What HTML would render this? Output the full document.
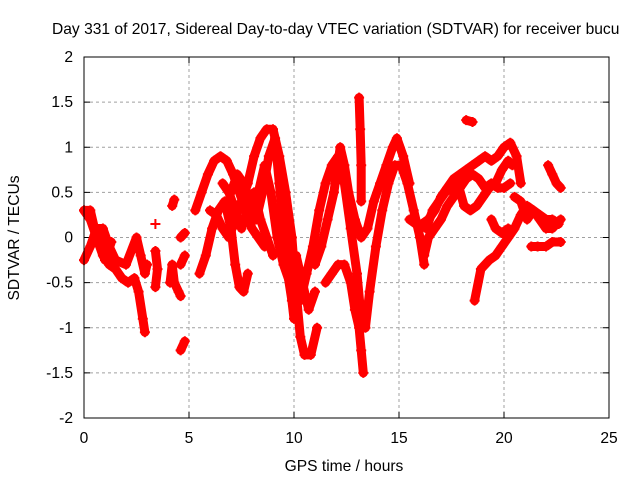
<!DOCTYPE html>
<html><head><meta charset="utf-8"><style>
body{margin:0;background:#fff}
svg text{font-family:"Liberation Sans",sans-serif;font-size:15.6px;fill:#000}
</style></head><body>
<svg width="640" height="480" viewBox="0 0 640 480">
<g id="grid"></g>
<g id="axes"></g>
<g id="series"></g>
<rect x="84" y="57" width="525" height="361" fill="none" stroke="#000" stroke-width="1"/>
<text x="52" y="34">Day 331 of 2017, Sidereal Day-to-day VTEC variation (SDTVAR) for receiver bucu</text>
<text x="344" y="471" text-anchor="middle">GPS time / hours</text>
<text transform="translate(19,238) rotate(-90)" text-anchor="middle">SDTVAR / TECUs</text>
</svg>
<script>
const xTicks=[0,5,10,15,20,25];
const yTicks=[2,1.5,1,0.5,0,-0.5,-1,-1.5,-2];
const traces=[
[[0,0.3],[0.3,0.2],[0.6,0],[0.9,-0.2],[1.2,-0.3],[1.5,-0.35],[1.8,-0.45],[2.1,-0.5],[2.4,-0.45],[2.6,-0.6],[2.8,-0.9],[2.9,-1.05]],
[[0,-0.25],[0.3,-0.1],[0.6,0.1],[0.9,0.1],[1.2,-0.1],[1.5,-0.25],[2,-0.3],[2.5,0],[2.7,-0.2],[2.9,-0.4],[3.0,-0.3]],
[[0,0.3],[0.3,0.3],[0.5,0.1],[0.8,-0.1],[1,-0.25],[1.3,-0.05]],
[[3.4,-0.15],[3.5,-0.35],[3.4,-0.55]],
[[3.4,0.15]],
[[4.1,-0.5],[4.2,-0.3],[4.3,-0.5],[4.5,-0.6],[4.6,-0.65]],
[[4.2,0.35],[4.3,0.42]],
[[4.6,-1.25],[4.8,-1.15]],
[[4.6,0],[4.8,0.05]],
[[4.6,-0.3],[4.8,-0.2]],
[[5.3,0.3],[5.6,0.5],[5.9,0.7],[6.2,0.85],[6.5,0.9],[6.8,0.85],[7.1,0.7],[7.4,0.5],[7.7,0.3],[8,0.1],[8.3,0],[8.6,-0.1]],
[[5.5,-0.4],[5.8,-0.2],[6.1,0.1],[6.4,0.3],[6.7,0.4],[7,0.1],[7.2,-0.3],[7.4,-0.55],[7.6,-0.6],[7.8,-0.4]],
[[6.0,0.3],[6.3,0.25],[6.6,0.1],[6.9,0],[7.2,0.2],[7.5,0.4],[7.8,0.6],[8.1,0.9],[8.4,1.1],[8.7,1.2],[9,1.2],[9.3,0.9],[9.6,0.5],[9.9,0],[10.1,-0.6],[10.3,-1.1],[10.5,-1.3],[10.8,-1.3],[11.1,-1]],
[[7.0,0.5],[7.3,0.7],[7.6,0.6],[7.9,0.4],[8.2,0.2],[8.5,0.5],[8.8,0.9],[9.1,1.1],[9.3,0.6],[9.5,0.1],[9.7,-0.4],[9.9,-0.7],[10.0,-0.9]],
[[8,0.3],[8.3,0.5],[8.6,0.8],[8.9,0.5],[9.2,0],[9.5,-0.3],[9.8,-0.5],[10.1,-0.2],[10.4,-0.5],[10.7,-0.8],[11,-0.6]],
[[6.6,0.6],[6.9,0.5],[7.2,0.3],[7.5,0.1],[7.8,0.3],[8.1,0.5],[8.4,0.2],[8.7,0.0],[9.0,-0.2]],
[[10.3,-0.7],[10.6,-0.4],[10.9,-0.1],[11.2,0.3],[11.5,0.6],[11.8,0.8],[12.1,0.9],[12.4,0.6],[12.7,0.1],[13,-0.4],[13.2,-0.9],[13.4,-1.0],[13.6,-0.6],[13.9,-0.1],[14.2,0.3],[14.5,0.6],[14.8,0.8],[15.1,0.8],[15.4,0.6],[15.7,0.3],[16,0],[16.2,-0.3]],
[[11,-0.3],[11.3,-0.1],[11.6,0.2],[11.9,0.5],[12.2,1.0],[12.4,0.8],[12.6,0.5],[12.9,0.2],[13.2,0],[13.5,0.1],[13.8,0.4],[14.1,0.6],[14.4,0.8],[14.7,1.0],[14.9,1.1],[15.2,0.9],[15.5,0.6]],
[[11.5,-0.5],[11.8,-0.4],[12.1,-0.3],[12.4,-0.3],[12.7,-0.5],[12.9,-0.8],[13.1,-1.0],[13.2,-1.25],[13.3,-1.5]],
[[13.1,1.55],[13.15,1.2],[13.2,0.8],[13.2,0.4]],
[[15.5,0.2],[15.8,0.15],[16.1,0.15],[16.4,0.2],[16.7,0.3],[17,0.45],[17.3,0.55],[17.6,0.65],[17.9,0.7],[18.2,0.75],[18.5,0.8],[18.8,0.85],[19.1,0.9],[19.4,0.85],[19.7,0.9],[20,1.0],[20.3,1.05],[20.6,0.9],[20.8,0.6]],
[[16.2,-0.2],[16.4,0],[16.7,0.1],[17,0.2],[17.3,0.35],[17.6,0.45],[17.9,0.55],[18.2,0.65],[18.5,0.7],[18.8,0.65],[19.1,0.55],[19.4,0.6],[19.7,0.55],[20.0,0.55],[20.3,0.6]],
[[16.3,0.1],[16.6,0.3],[16.9,0.4],[17.2,0.5],[17.5,0.55],[17.8,0.6],[18.1,0.35],[18.4,0.3],[18.7,0.35],[19,0.45],[19.3,0.55],[19.6,0.6],[19.9,0.75],[20.2,0.85],[20.4,0.8]],
[[18.2,1.3],[18.5,1.28]],
[[18.6,-0.7],[18.9,-0.35],[19.3,-0.25],[19.6,-0.2],[19.9,-0.1],[20.2,0],[20.5,0.1],[20.8,0.25],[21.1,0.35],[21.4,0.3],[21.7,0.25],[22,0.2],[22.3,0.2],[22.6,0.15]],
[[19.4,0.2],[19.6,0.1],[19.9,0.05],[20.2,0.1]],
[[20.5,0.45],[20.8,0.4],[21.1,0.2],[21.4,0.3],[21.7,0.2],[22,0.1],[22.3,0.1],[22.7,0.2]],
[[21.3,-0.1],[21.6,-0.1],[22,-0.1],[22.3,-0.05],[22.7,-0.05]],
[[22.1,0.8],[22.3,0.7],[22.5,0.6],[22.7,0.55]]
];
const NS='http://www.w3.org/2000/svg';
const X=v=>84+v*21, Y=v=>237.5-v*90.25;
function mk(tag,attrs,parent){const e=document.createElementNS(NS,tag);for(const k in attrs)e.setAttribute(k,attrs[k]);parent.appendChild(e);return e;}
const grid=document.getElementById('grid'),axes=document.getElementById('axes'),ser=document.getElementById('series');
xTicks.forEach(t=>{
  if(t>0&&t<25){const g=mk('line',{x1:X(t),x2:X(t),y1:57,y2:418,stroke:'#a0a0a0','stroke-dasharray':'3,3'},grid);
  
  }
  const k=mk('path',{d:`M${X(t)},418v-6M${X(t)},57v6`,stroke:'#000'},axes);
  
  
  const l=mk('text',{x:X(t),y:443,'text-anchor':'middle'},axes);l.textContent=t;
  
  
});
yTicks.forEach(t=>{
  if(t<2&&t>-2){const g=mk('line',{x1:84,x2:609,y1:Y(t),y2:Y(t),stroke:'#a0a0a0','stroke-dasharray':'3,3'},grid);
  
  }
  const k=mk('path',{d:`M84,${Y(t)}h6M609,${Y(t)}h-6`,stroke:'#000'},axes);
  
  
  const l=mk('text',{x:73,y:Y(t)+5,'text-anchor':'end'},axes);l.textContent=t;
  
  
});
traces.forEach(tr=>{
  const pl=mk('polyline',{points:tr.map(p=>X(p[0])+','+Y(p[1])).join(' '),fill:'none',stroke:'#f00','stroke-width':9,'stroke-linejoin':'round','stroke-linecap':'round'},ser);
  
  
  tr.forEach(p=>{
    const m=mk('path',{d:`M${X(p[0])-5},${Y(p[1])}h10M${X(p[0])},${Y(p[1])-5}v10`,stroke:'#f00','stroke-width':2},ser);
    
    
  });
});
</script>
</body></html>
